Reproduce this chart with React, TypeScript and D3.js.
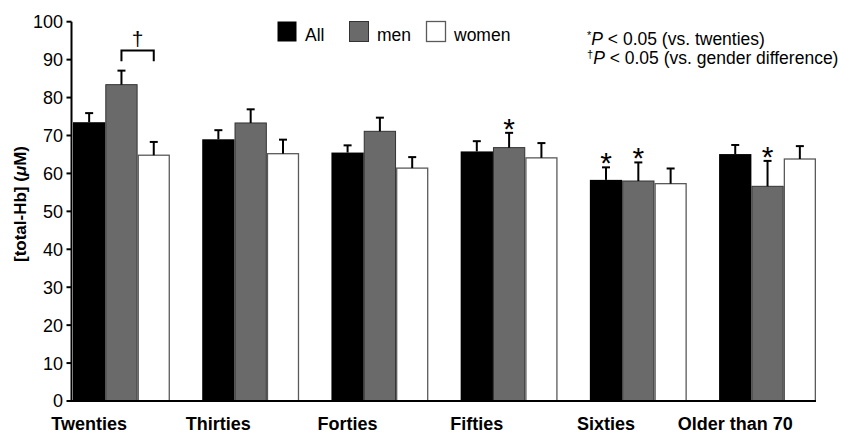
import React from "react";
import * as d3 from "d3";

const categories = ["Twenties", "Thirties", "Forties", "Fifties", "Sixties", "Older than 70"];
const seriesNames = ["All", "men", "women"];
const allMean = [73.5, 69.0, 65.5, 65.8, 58.3, 65.1];
const allErr = [2.4, 2.4, 1.9, 2.7, 3.3, 2.4];
const menMean = [83.4, 73.3, 71.1, 66.8, 58.0, 56.6];
const menErr = [3.7, 3.6, 3.6, 3.9, 4.9, 6.7];
const womenMean = [64.8, 65.2, 61.4, 64.1, 57.3, 63.8];
const womenErr = [3.5, 3.7, 2.9, 3.9, 4.0, 3.4];
const allStar = [false, false, false, false, true, false];
const menStar = [false, false, false, true, true, true];
const womenStar = [false, false, false, false, false, false];
const yTicks = [0, 10, 20, 30, 40, 50, 60, 70, 80, 90, 100];
const bracketTop = 92.4;
const bracketBottom = 89.6;

const FONT = "'Liberation Sans', Arial, Helvetica, sans-serif";
const W = 841;
const H = 433;

const styles: Record<string, { fill: string; stroke: string; sw: number }> = {
  All: { fill: "#000000", stroke: "#000000", sw: 0 },
  men: { fill: "#6a6a6a", stroke: "#333333", sw: 1 },
  women: { fill: "#ffffff", stroke: "#5a5a5a", sw: 1.3 },
};

export default function App() {
  const x0 = d3.scaleBand<string>().domain(categories).range([73, 816]).paddingInner(0.25).paddingOuter(0);
  const x1 = d3.scaleBand<string>().domain(seriesNames).range([0, x0.bandwidth()]);
  const y = d3.scaleLinear().domain([0, 100]).range([401, 21.7]);

  const series = [
    { name: "All", mean: allMean, err: allErr, star: allStar },
    { name: "men", mean: menMean, err: menErr, star: menStar },
    { name: "women", mean: womenMean, err: womenErr, star: womenStar },
  ];
  const bw = x1.bandwidth();
  const axisX = 71.5;
  const axisEnd = 816;

  const legendX = [277, 349, 426];

  const bx = (c: string, s: string) => (x0(c) as number) + (x1(s) as number);

  return (
    <svg width={W} height={H} style={{ position: "absolute", left: 0, top: 0, background: "#fff" }} fontFamily={FONT}>
      <rect x={0} y={0} width={W} height={H} fill="#fff" />
      {series.map((s) =>
        categories.map((c, i) => {
          const st = styles[s.name];
          const x = bx(c, s.name);
          const top = y(s.mean[i]);
          return (
            <rect
              key={s.name + c}
              x={x + (st.sw ? st.sw / 2 : 0)}
              y={top}
              width={bw - (st.sw ? st.sw : 0)}
              height={y(0) - top}
              fill={st.fill}
              stroke={st.sw ? st.stroke : "none"}
              strokeWidth={st.sw}
            />
          );
        })
      )}
      {series.map((s) =>
        categories.map((c, i) => {
          const cx = bx(c, s.name) + bw / 2;
          const t = y(s.mean[i] + s.err[i]);
          return (
            <g key={"e" + s.name + c} stroke="#000" strokeWidth={2}>
              <line x1={cx} x2={cx} y1={y(s.mean[i])} y2={t} />
              <line x1={cx - 4} x2={cx + 4} y1={t} y2={t} />
            </g>
          );
        })
      )}
      {series.map((s) =>
        categories.map((c, i) =>
          s.star[i] ? (
            <text
              key={"s" + s.name + c}
              x={bx(c, s.name) + bw / 2}
              y={y(s.mean[i] + s.err[i]) + 6}
              textAnchor="middle"
              fontSize={30}
              fill="#000"
            >
              *
            </text>
          ) : null
        )
      )}
      {(() => {
        const xa = bx(categories[0], "men") + bw / 2;
        const xb = bx(categories[0], "women") + bw / 2;
        return (
          <g>
            <path
              d={`M${xa},${y(bracketBottom)}V${y(bracketTop)}H${xb}V${y(bracketBottom)}`}
              fill="none"
              stroke="#000"
              strokeWidth={2}
            />
            <text x={(xa + xb) / 2} y={y(bracketTop) - 5} textAnchor="middle" fontSize={21} fill="#000">
              †
            </text>
          </g>
        );
      })()}
      <line x1={axisX} x2={axisX} y1={y(100)} y2={y(0)} stroke="#000" strokeWidth={2} />
      {yTicks.map((t) => (
        <g key={"t" + t}>
          <line x1={axisX - 5} x2={axisX} y1={y(t)} y2={y(t)} stroke="#000" strokeWidth={2} />
          <text x={63} y={y(t)} dy="0.36em" textAnchor="end" fontSize={18} fill="#000">
            {t}
          </text>
        </g>
      ))}
      <line x1={axisX - 1} x2={axisEnd} y1={y(0)} y2={y(0)} stroke="#000" strokeWidth={2} />
      {categories.map((c) => (
        <text
          key={"c" + c}
          x={bx(c, "All") + bw / 2}
          y={430}
          textAnchor="middle"
          fontSize={18}
          fontWeight="bold"
          fill="#000"
        >
          {c}
        </text>
      ))}
      <text
        transform="translate(26,204) rotate(-90)"
        textAnchor="middle"
        fontSize={17}
        fontWeight="bold"
        fill="#000"
      >
        [total-Hb] (<tspan fontStyle="italic">μ</tspan>M)
      </text>
      {seriesNames.map((s, i) => {
        const st = styles[s];
        return (
          <g key={"l" + s}>
            <rect
              x={legendX[i] + 0.5}
              y={21.5}
              width={19}
              height={20}
              fill={st.fill}
              stroke={st.sw ? st.stroke : "none"}
              strokeWidth={st.sw}
            />
            <text x={legendX[i] + 28} y={41} fontSize={17.5} fill="#000">
              {s}
            </text>
          </g>
        );
      })}
      <text x={587} y={45} fontSize={17.5} fill="#000">
        <tspan fontSize={11} dy={-6}>*</tspan>
        <tspan fontStyle="italic" dy={6}>P</tspan>
        <tspan>{" < 0.05 (vs. twenties)"}</tspan>
      </text>
      <text x={587} y={64} fontSize={17.5} fill="#000">
        <tspan fontSize={11} dy={-6}>†</tspan>
        <tspan fontStyle="italic" dy={6}>P</tspan>
        <tspan>{" < 0.05 (vs. gender difference)"}</tspan>
      </text>
    </svg>
  );
}
